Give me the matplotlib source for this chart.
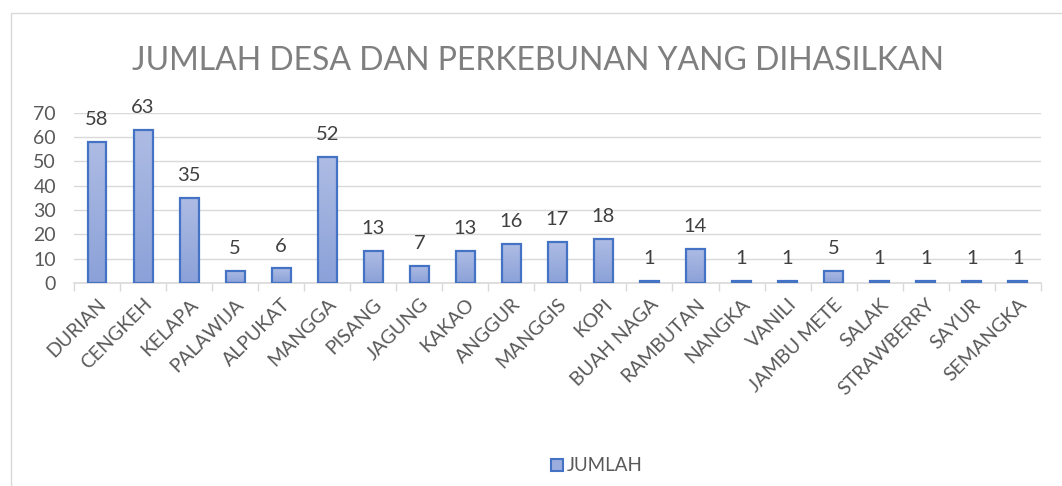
import numpy as np
import matplotlib.pyplot as plt
from matplotlib.colors import LinearSegmentedColormap
from matplotlib.patches import Rectangle

plt.rcParams['font.family'] = ['Lato', 'DejaVu Sans']

# data
kategori = ['DURIAN', 'CENGKEH', 'KELAPA', 'PALAWIJA', 'ALPUKAT', 'MANGGA', 'PISANG',
            'JAGUNG', 'KAKAO', 'ANGGUR', 'MANGGIS', 'KOPI', 'BUAH NAGA', 'RAMBUTAN',
            'NANGKA', 'VANILI', 'JAMBU METE', 'SALAK', 'STRAWBERRY', 'SAYUR', 'SEMANGKA']
jumlah = [58, 63, 35, 5, 6, 52, 13, 7, 13, 16, 17, 18, 1, 14, 1, 1, 5, 1, 1, 1, 1]
y_ticks = [0, 10, 20, 30, 40, 50, 60, 70]

teks = '#595959'
fig = plt.figure(figsize=(10.62, 4.86), dpi=100)
ax = fig.add_axes([0.0697, 0.4177, 0.9103, 0.3503])

x = np.arange(len(kategori))
bars = ax.bar(x, jumlah, width=0.41, color='none', edgecolor='#4472c4', linewidth=1.6, zorder=3)

# gradient isi bar
cmap = LinearSegmentedColormap.from_list('g', ['#8ba1d8', '#aebce4'])
grad = np.linspace(0, 1, 256).reshape(-1, 1)
for b in bars:
    im = ax.imshow(grad, cmap=cmap, origin='lower', aspect='auto', zorder=2,
                   extent=[b.get_x(), b.get_x() + b.get_width(), 0, b.get_height()])
    im.set_clip_path(b)

for xi, v in zip(x, jumlah):
    ax.annotate(str(v), (xi, v), xytext=(0, 10), textcoords='offset points',
                ha='center', va='bottom', fontsize=14.5, color='#404040')

ax.set_xlim(-0.5, len(kategori) - 0.5)
ax.set_ylim(0, 70)
ax.set_yticks(y_ticks)
ax.tick_params(axis='y', length=0, labelsize=14, labelcolor=teks, pad=13)
ax.set_xticks(x)
ax.set_xticklabels(kategori, rotation=45, ha='right', rotation_mode='anchor',
                   fontsize=14, color=teks)
ax.tick_params(axis='x', length=0, pad=9)
ax.set_xticks(np.arange(-0.5, len(kategori)), minor=True)
ax.tick_params(axis='x', which='minor', length=6, color='#d9d9d9', width=1)
ax.grid(axis='y', color='#d9d9d9', linewidth=1, zorder=0)
for s in ['top', 'right', 'left']:
    ax.spines[s].set_visible(False)
ax.spines['bottom'].set_color('#d9d9d9')
ax.spines['bottom'].set_linewidth(1.2)

fig.text(0.507, 0.875, 'JUMLAH DESA DAN PERKEBUNAN YANG DIHASILKAN', ha='center', va='center',
         fontsize=23, color='#7f7f7f')

# legend
fig.patches.append(Rectangle((551 / 1062, 1 - 471 / 486), 12 / 1062, 12 / 486,
                             transform=fig.transFigure, facecolor='#9aaddd',
                             edgecolor='#4472c4', linewidth=1.5))
fig.text(567 / 1062, 1 - 465 / 486, 'JUMLAH', ha='left', va='center', fontsize=13.5, color=teks)

# bingkai
fig.patches.append(Rectangle((11 / 1062, -0.1), 1.2, 1.1 - 13 / 486,
                             transform=fig.transFigure, facecolor='none',
                             edgecolor='#d9d9d9', linewidth=1))

fig.savefig('out.png', dpi=100)
